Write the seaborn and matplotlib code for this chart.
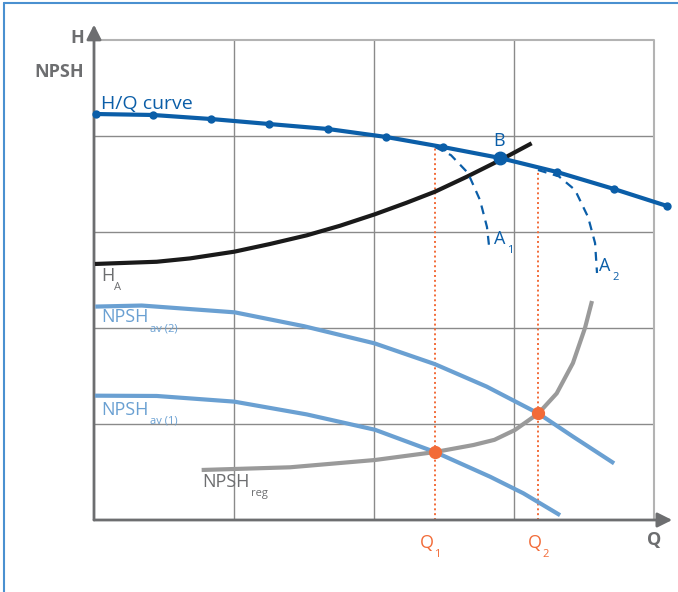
import matplotlib
matplotlib.use("Agg")
import matplotlib.pyplot as plt
import seaborn as sns

sns.set_style("white")
plt.rcParams['font.family'] = ['Open Sans', 'DejaVu Sans']

# pump curve (H/Q) with marker points
hq_x = [0.014, 0.421, 0.836, 1.25, 1.671, 2.086, 2.493, 2.9, 3.307, 3.714, 4.093]
hq_y = [4.229, 4.219, 4.177, 4.125, 4.073, 3.99, 3.885, 3.771, 3.625, 3.448, 3.271]
b_point = (2.9, 3.771)

# system curve H_A
ha_x = [0.007, 0.448, 0.686, 1.002, 1.257, 1.519, 1.757, 2.007, 2.233, 2.436, 2.662, 2.912, 3.126]
ha_y = [2.667, 2.69, 2.725, 2.795, 2.875, 2.965, 3.065, 3.185, 3.305, 3.42, 3.575, 3.757, 3.924]

# dashed throttled curves A1, A2
a1_x = [2.436, 2.55, 2.671, 2.757, 2.807, 2.821]
a1_y = [3.885, 3.8, 3.615, 3.333, 3.052, 2.865]
a2_x = [3.171, 3.32, 3.436, 3.529, 3.579, 3.593]
a2_y = [3.646, 3.58, 3.438, 3.156, 2.885, 2.573]

# NPSH available curves
av2_x = [0.009, 0.341, 1.006, 1.499, 2.004, 2.434, 2.804, 3.174, 3.42, 3.715]
av2_y = [2.223, 2.234, 2.163, 2.019, 1.84, 1.624, 1.39, 1.11, 0.87, 0.59]
av1_x = [0.007, 0.448, 1.002, 1.519, 2.007, 2.436, 2.829, 3.067, 3.329]
av1_y = [1.295, 1.292, 1.233, 1.10, 0.94, 0.708, 0.451, 0.278, 0.05]

# NPSH required curve
req_x = [0.769, 1.4, 2.007, 2.436, 2.71, 2.86, 3.007, 3.174, 3.305, 3.421, 3.507, 3.557]
req_y = [0.521, 0.549, 0.625, 0.708, 0.781, 0.835, 0.938, 1.11, 1.319, 1.635, 2.0, 2.281]

# operating points Q1, Q2
q_x = [2.436, 3.174]
q_y = [0.708, 1.11]
q_top = [3.885, 3.646]

dark_blue = "#0b5ea8"
light_blue = "#6aa0d2"
orange = "#f26b38"
gray_txt = "#6d6e70"

fig = plt.figure(figsize=(6.78, 5.92), dpi=100)
ax = fig.add_axes([94 / 678, 72 / 592, 560 / 678, 480 / 592])
ax.set_xlim(0, 4)
ax.set_ylim(0, 5)
ax.set_xticks([])
ax.set_yticks([])
for s in ax.spines.values():
    s.set_visible(False)

# grid
for gx in [1, 2, 3]:
    ax.plot([gx, gx], [0, 5], color="#8a8a8a", lw=1, zorder=1)
for gy in [1, 2, 3, 4]:
    ax.plot([0, 4], [gy, gy], color="#8a8a8a", lw=1, zorder=1)
ax.plot([0, 4, 4], [5, 5, 0], color="#b3b3b3", lw=1.5, zorder=1)

# axes with arrows
ax.annotate('', xy=(0, 5.16), xytext=(0, 0), annotation_clip=False,
            arrowprops=dict(arrowstyle='-|>', color=gray_txt, lw=2, mutation_scale=22, shrinkA=0, shrinkB=0))
ax.annotate('', xy=(4.13, 0), xytext=(0, 0), annotation_clip=False,
            arrowprops=dict(arrowstyle='-|>', color=gray_txt, lw=2, mutation_scale=22, shrinkA=0, shrinkB=0))

# Q lines
for qx, qt in zip(q_x, q_top):
    ax.plot([qx, qx], [0, qt], color=orange, lw=1.4, ls=(0, (1, 1.5)), zorder=2)

sns.lineplot(x=av2_x, y=av2_y, ax=ax, sort=False, color=light_blue, lw=3, zorder=3)
sns.lineplot(x=av1_x, y=av1_y, ax=ax, sort=False, color=light_blue, lw=3, zorder=3)
sns.lineplot(x=req_x, y=req_y, ax=ax, sort=False, color="#9a9a9a", lw=3, zorder=3)
sns.lineplot(x=ha_x, y=ha_y, ax=ax, sort=False, color="#1a1a1a", lw=3, zorder=3)
sns.lineplot(x=a1_x, y=a1_y, ax=ax, sort=False, color=dark_blue, lw=1.6, ls=(0, (4, 3)), zorder=3)
sns.lineplot(x=a2_x, y=a2_y, ax=ax, sort=False, color=dark_blue, lw=1.6, ls=(0, (4, 3)), zorder=3)
sns.lineplot(x=hq_x, y=hq_y, ax=ax, sort=False, color=dark_blue, lw=3, zorder=4,
             marker='o', markersize=6, markeredgewidth=0)
ax.plot(*b_point, 'o', color=dark_blue, markersize=9, zorder=5)
ax.plot(q_x, q_y, 'o', color=orange, markersize=8.5, zorder=5, ls='none')
for line in ax.lines:
    line.set_clip_on(False)
    line.set_solid_capstyle('butt')
    line.set_solid_joinstyle('round')

# labels
def label(x, y, main, sub, color, size=13, weight='normal', dx=0.0, dy=-0.12):
    t = ax.text(x, y, main, color=color, fontsize=size, fontweight=weight,
                va='center', ha='left')
    if sub:
        fig.canvas.draw()
        bb = t.get_window_extent().transformed(ax.transData.inverted())
        ax.text(bb.x1 + dx, y + dy, sub, color=color, fontsize=size * 0.62,
                va='center', ha='left')

ax.text(-0.07, 5.02, "H", color=gray_txt, fontsize=13, fontweight='bold', ha='right', va='center')
ax.text(-0.07, 4.67, "NPSH", color=gray_txt, fontsize=13, fontweight='bold', ha='right', va='center')
ax.text(4.0, -0.21, "Q", color=gray_txt, fontsize=13, fontweight='bold', ha='center', va='center')
label(0.05, 4.33, "H/Q curve", None, dark_blue, size=14)
ax.text(2.89, 3.95, "B", color=dark_blue, fontsize=13, ha='center', va='center')
label(2.86, 2.93, "A", "1", dark_blue, dx=0.01)
label(3.61, 2.65, "A", "2", dark_blue, dx=0.01)
label(0.05, 2.54, "H", "A", gray_txt)
label(0.05, 2.11, "NPSH", "av (2)", light_blue, dx=0.01)
label(0.05, 1.15, "NPSH", "av (1)", light_blue, dx=0.01)
label(0.77, 0.40, "NPSH", "reg", gray_txt, dx=0.01)
label(2.33, -0.24, "Q", "1", orange, dx=0.0)
label(3.1, -0.24, "Q", "2", orange, dx=0.0)

# frame lines at top and left of the picture
fig.add_artist(plt.Line2D([4 / 678, 1], [1 - 3 / 592, 1 - 3 / 592], color="#4a90d0", lw=1.5))
fig.add_artist(plt.Line2D([4 / 678, 4 / 678], [0, 1 - 3 / 592], color="#4a90d0", lw=1.5))

fig.savefig("out.png", dpi=100)
